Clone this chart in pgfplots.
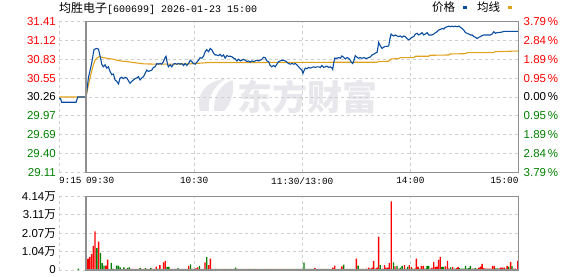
\documentclass[border=0pt]{standalone}
\usepackage{fontspec}
\setmainfont{Liberation Sans}
\newfontfamily\cjk{Noto Sans CJK SC}
\newfontfamily\mono{Liberation Mono}
\usepackage{pgfplots}
\pgfplotsset{compat=1.18}
\definecolor{pblue}{HTML}{0A4DA0}
\definecolor{porange}{HTML}{E0A21C}
\definecolor{vred}{HTML}{FF0000}
\definecolor{vgreen}{HTML}{008000}
\definecolor{gridc}{HTML}{CFCFCF}
\definecolor{framec}{HTML}{8F8F8F}
\definecolor{wm}{HTML}{E8E8EC}
\newcommand{\tl}{\fontsize{11.5}{12}\selectfont}
\begin{document}
\begin{tikzpicture}
\path[use as bounding box] (0pt,0pt) rectangle (578pt,276pt);
% watermark (logo swoosh + text)
\fill[wm] (200pt,165pt) .. controls (195pt,183pt) and (207pt,195pt) .. (226pt,197.5pt) .. controls (214pt,190pt) and (207pt,178pt) .. (209pt,165pt) -- cycle;
\fill[wm] (214pt,165pt) .. controls (213pt,180pt) and (221pt,192pt) .. (232.5pt,196pt) .. controls (235pt,185pt) and (231pt,172pt) .. (224pt,165pt) -- cycle;
\node[anchor=west, text=wm, font=\fontsize{35}{35}\selectfont\cjk\bfseries, inner sep=0pt] at (237pt,179pt) {东方财富};
% title
\node[anchor=base west, inner sep=0pt] at (59pt,263.5pt) {{\fontsize{12}{12}\selectfont\cjk 均胜电子}{\mono\fontsize{10}{10}\selectfont[600699] 2026-01-23 15:00}};
% legend
\node[anchor=base west, inner sep=0pt, font=\fontsize{11.5}{12}\selectfont\cjk] at (432pt,264pt) {价格};
\fill[pblue] (462.7pt,267.3pt) rectangle (466.7pt,270.3pt);
\node[anchor=base west, inner sep=0pt, font=\fontsize{11.5}{12}\selectfont\cjk] at (477pt,264pt) {均线};
\fill[porange] (507.7pt,267.3pt) rectangle (512.3pt,270.3pt);

% ---------------- price axis ----------------
\begin{axis}[
  name=price,
  at={(59pt,103.5pt)}, anchor=south west, scale only axis,
  width=459.5pt, height=151pt,
  xmin=-15, xmax=240, ymin=29.11, ymax=31.41,
  clip=false,
  axis line style={draw=none}, major tick length=0pt,
  grid=major, grid style={gridc, dash pattern=on 3pt off 3pt, line width=0.8pt},
  xtick={-15,0,60,120,180,240},
  xticklabels={\makebox[0pt][l]{9:15},\makebox[0pt][l]{09:30},10:30,11:30/13:00,14:00,\makebox[0pt][r]{15:00}},
  xticklabel style={font=\mono\fontsize{9.4}{10}\selectfont, inner sep=0pt, yshift=-5pt},
  ytick={29.11,29.3975,29.685,29.9725,30.26,30.5475,30.835,31.1225,31.41},
  yticklabels={\textcolor{vgreen}{29.11},\textcolor{vgreen}{29.40},\textcolor{vgreen}{29.69},\textcolor{vgreen}{29.97},30.26,\textcolor{vred}{30.55},\textcolor{vred}{30.83},\textcolor{vred}{31.12},\textcolor{vred}{31.41}},
  yticklabel style={font=\tl, inner sep=0pt, xshift=-3pt},
]
\addplot[porange, line width=1.1pt] coordinates {
(-15,30.26)(0,30.26)(1.3,30.44)(2.2,30.545)(3.1,30.65)(4.1,30.75)(5.0,30.82)(6.3,30.86)(7.4,30.875)(8.7,30.865)(11.5,30.85)(15.2,30.835)(18.9,30.81)(22.6,30.80)(26.3,30.785)(31.9,30.765)(39.3,30.76)(48.5,30.76)(57.8,30.765)(63.3,30.775)(68.0,30.785)(80,30.785)(157.8,30.79)(161.5,30.79)(162.4,30.80)(168.0,30.805)(169.3,30.84)(173.5,30.845)(174.4,30.86)(181.9,30.86)(182.8,30.88)(190.2,30.88)(190.7,30.895)(201.3,30.90)(201.9,30.915)(210.6,30.92)(211.5,30.935)(226.3,30.935)(226.9,30.95)(239.3,30.96)(240,30.97)
};
\addplot[pblue, line width=1.1pt] coordinates {
(-15,30.24)(-14.2,30.24)(-13.5,30.18)(-5.5,30.18)(-4.6,30.26)(0,30.26)
(0.4,30.34)(1.3,30.55)(3.1,30.77)(4.4,30.98)(5.6,31.00)(6.9,30.99)(7.4,30.93)(8.1,30.85)(8.7,30.76)(9.6,30.72)(10.6,30.75)(11.5,30.70)(12.4,30.72)(13.3,30.65)(14.3,30.60)(15.2,30.61)(16.1,30.52)(17.0,30.50)(18.0,30.46)(18.9,30.55)(19.8,30.56)(20.7,30.54)(21.7,30.56)(22.6,30.55)(23.5,30.51)(24.4,30.47)(25.4,30.50)(26.3,30.52)(27.2,30.54)(28.1,30.55)(29.1,30.57)(30.0,30.52)(30.9,30.55)(31.9,30.57)(32.8,30.62)(33.7,30.67)(34.6,30.65)(35.6,30.66)(36.5,30.67)(37.4,30.71)(38.3,30.72)(39.3,30.77)(40.2,30.76)(41.1,30.77)(42.0,30.76)(43.0,30.80)(43.9,30.86)(44.4,30.88)(45.2,30.76)(45.7,30.72)(46.7,30.75)(47.6,30.72)(48.5,30.76)(49.4,30.77)(50.4,30.76)(51.3,30.77)(52.2,30.76)(53.1,30.77)(54.1,30.74)(55.0,30.77)(55.9,30.74)(56.9,30.77)(57.8,30.82)(58.7,30.80)(59.6,30.77)(60.6,30.76)(61.5,30.79)(62.4,30.82)(63.3,30.86)(64.3,30.85)(65.2,30.88)(66.1,30.95)(67.0,30.98)(68.0,30.95)(68.9,31.00)(69.8,30.98)(70.7,30.93)(71.7,30.90)(72.6,30.90)(73.5,30.89)(74.4,30.91)(75.4,30.88)(76.3,30.90)(77.2,30.85)(78.1,30.89)(79.1,30.88)(80.0,30.88)
(80.9,30.875)(81.9,30.85)(82.8,30.84)(83.7,30.81)(84.6,30.835)(85.6,30.81)(86.5,30.82)(87.4,30.835)(88.3,30.82)(89.3,30.80)(90.2,30.81)(91.1,30.79)(92.0,30.81)(93.0,30.80)(93.9,30.81)(94.8,30.82)(95.7,30.81)(96.7,30.82)(97.6,30.835)(98.5,30.865)(99.4,30.86)(100.4,30.81)(101.3,30.80)(102.2,30.74)(103.1,30.72)(104.1,30.74)(105.0,30.72)(105.9,30.76)(106.9,30.80)(107.8,30.81)(108.7,30.82)(109.6,30.82)(110.6,30.81)(111.5,30.79)(112.4,30.77)(113.3,30.76)(114.3,30.77)(115.2,30.76)(116.1,30.77)(117.0,30.75)(118.0,30.72)(118.9,30.69)(119.8,30.67)(120.4,30.62)(121.1,30.67)(121.7,30.70)(122.6,30.69)(123.5,30.71)(124.4,30.70)(125.4,30.71)(126.3,30.72)(127.2,30.71)(128.1,30.72)(129.1,30.72)(130.0,30.71)(130.9,30.74)(131.9,30.71)(132.8,30.72)(133.7,30.73)(134.6,30.71)(135.6,30.72)(136.5,30.70)(136.9,30.68)(137.4,30.77)(138.0,30.85)(139.3,30.85)(140.2,30.86)(141.1,30.85)(142.0,30.885)(143.0,30.865)(143.9,30.84)(144.8,30.86)(145.7,30.85)(146.7,30.82)(147.2,30.79)(148.0,30.77)(148.5,30.80)(149.4,30.89)(150.4,30.865)(151.3,30.85)(152.2,30.86)(153.1,30.85)(154.1,30.86)(155.0,30.85)(155.9,30.85)(156.9,30.86)(157.8,30.87)
(158.7,30.90)(159.6,30.91)(160.6,30.93)(161.5,30.94)(161.9,31.00)(162.4,31.09)(163.3,31.04)(164.3,31.00)(165.2,31.02)(166.1,31.03)(167.0,31.03)(168.0,31.04)(168.5,31.13)(169.3,31.22)(169.8,31.205)(170.7,31.19)(171.7,31.205)(172.6,31.19)(173.5,31.18)(174.4,31.19)(175.4,31.17)(176.3,31.19)(177.2,31.18)(178.1,31.15)(179.1,31.13)(180.0,31.15)(180.9,31.17)(181.9,31.18)(182.8,31.22)(183.7,31.23)(184.6,31.205)(185.6,31.22)(186.5,31.24)(187.4,31.205)(188.3,31.22)(189.3,31.24)(190.2,31.205)(191.1,31.205)(192.0,31.205)(193.0,31.22)(193.9,31.24)(194.8,31.255)(195.7,31.28)(196.7,31.29)(197.6,31.305)(198.5,31.295)(199.4,31.32)(200.4,31.33)(201.3,31.34)(202.2,31.33)(203.1,31.34)(204.1,31.33)(205.0,31.34)(205.9,31.33)(206.9,31.34)(207.8,31.32)(208.7,31.305)(209.6,31.28)(210.6,31.24)(211.5,31.23)(212.4,31.22)(213.3,31.205)(214.3,31.205)(215.2,31.18)(216.1,31.17)(217.0,31.15)(218.0,31.17)(218.9,31.18)(219.8,31.195)(220.7,31.205)(222.6,31.205)(224.4,31.205)(225.4,31.22)(226.3,31.255)(227.2,31.23)(228.1,31.24)(230.0,31.245)(230.9,31.25)(231.9,31.26)(240,31.26)
};
\draw[framec, line width=1.2pt] (axis cs:0,29.11) rectangle (axis cs:240,31.41);
\end{axis}
% right percentage labels
\begin{axis}[
  at={(59pt,103.5pt)}, anchor=south west, scale only axis,
  width=459.5pt, height=151pt,
  xmin=-15, xmax=240, ymin=29.11, ymax=31.41,
  axis line style={draw=none}, major tick length=0pt,
  xtick=\empty, yticklabel pos=right,
  ytick={29.11,29.3975,29.685,29.9725,30.26,30.5475,30.835,31.1225,31.41},
  yticklabels={\textcolor{vgreen}{3.79\,\%},\textcolor{vgreen}{2.84\,\%},\textcolor{vgreen}{1.89\,\%},\textcolor{vgreen}{0.95\,\%},0.00\,\%,\textcolor{vred}{0.95\,\%},\textcolor{vred}{1.89\,\%},\textcolor{vred}{2.84\,\%},\textcolor{vred}{3.79\,\%}},
  yticklabel style={font=\tl, inner sep=0pt, anchor=west, xshift=5pt},
]
\end{axis}

% ---------------- volume axis ----------------
\begin{axis}[
  at={(59pt,6pt)}, anchor=south west, scale only axis,
  width=459.5pt, height=73.7pt,
  xmin=-15, xmax=240, ymin=0, ymax=4.14,
  clip=false,
  axis line style={draw=none}, major tick length=0pt,
  grid=major, grid style={gridc, dash pattern=on 3pt off 3pt, line width=0.8pt},
  xtick={-15,0,60,120,180,240}, xticklabels={},
  ytick={0,1.035,2.07,3.105,4.14},
  yticklabels={0,1.04{\cjk 万},2.07{\cjk 万},3.11{\cjk 万},4.14{\cjk 万}},
  yticklabel style={font=\tl, inner sep=0pt, xshift=-3pt},
]
\addplot[ybar, bar width=0.75, fill=vred, draw=none] coordinates {
(1,0.62)(2,0.74)(3,0.89)(4,1.36)(5,2.17)(7,1.60)(11,0.25)(12,0.58)(16,0.05)(20,0.06)(22,0.06)(25,0.06)(26,0.06)(27,0.06)(28,0.06)(29,0.06)(31,0.06)(32,0.06)(34,0.06)(35,0.06)(37,0.06)(38,0.06)(39,0.19)(41,0.28)(43,0.43)(44,0.51)(47,0.06)(49,0.06)(50,0.06)(53,0.06)(55,0.06)(57,0.23)(60,0.06)(61,0.11)(62,0.15)(64,0.06)(66,0.43)(68,0.28)(69,0.64)(72,0.06)(73,0.06)(76,0.06)(77,0.06)(80,0.06)(81,0.06)(84,0.06)(85,0.06)(88,0.06)(89,0.06)(92,0.06)(95,0.06)(96,0.06)(99,0.06)(100,0.06)(103,0.06)(104,0.06)(107,0.06)(108,0.06)(111,0.06)(112,0.06)(115,0.06)(116,0.06)(119,0.06)(125,0.06)(127,0.11)(129,0.06)(131,0.06)(133,0.06)(135,0.06)(137,0.13)(138,0.25)(140,0.06)(142,0.21)(144,0.06)(146,0.06)(148,0.06)(150,0.64)(152,0.06)(153,0.06)
(155.6,0.075)(156.9,0.13)(157.8,0.075)(158.7,0.13)(159.6,0.51)(160.6,0.075)(161.5,0.13)(162.4,1.87)(164.4,0.075)(165.6,0.28)(166.5,0.13)(167.4,0.13)(168.3,0.40)(169.4,3.86)(171.5,0.21)(173.5,0.075)(176.7,0.28)(179.4,0.28)(180.6,0.17)(182.4,0.075)(183.3,0.64)(184.3,0.17)(186.1,0.23)(187.2,0.23)(191.1,0.075)(192.0,0.13)(193.0,0.45)(193.9,0.17)(194.8,0.19)(195.6,0.57)(196.6,0.74)(199.4,0.21)(200.6,0.51)(201.5,0.075)(203.5,0.17)(205.6,0.11)(206.5,0.17)(214.3,0.075)(217.0,0.075)(218.0,0.13)(218.9,0.19)(219.8,0.34)(220.7,0.11)(221.7,0.075)(222.6,0.075)(223.5,0.075)(224.4,0.075)(225.6,0.23)(226.5,0.23)(229.1,0.075)(230.0,0.13)(230.9,0.13)(232.0,0.13)(233.7,0.23)(235.6,0.45)(237.2,0.075)(238.2,0.075)(239.6,0.51)
};
\addplot[ybar, bar width=0.75, fill=vgreen, draw=none] coordinates {
(-4.3,0.08)(6,1.23)(8,0.96)(9,0.38)(10,0.25)(13,0.05)(14,0.40)(15,0.08)(17,0.25)(18,0.25)(19,0.15)(21,0.15)(23,0.12)(24,0.15)(30,0.12)(33,0.12)(36,0.12)(40,0.06)(42,0.06)(45,0.17)(46,0.17)(48,0.06)(51,0.11)(52,0.06)(54,0.06)(56,0.06)(58,0.32)(59,0.06)(63,0.23)(65,0.06)(67,0.74)(70,0.06)(71,0.06)(74,0.06)(75,0.06)(78,0.06)(79,0.06)(82,0.06)(83,0.13)(86,0.06)(87,0.06)(90,0.06)(91,0.06)(93,0.06)(94,0.06)(97,0.06)(98,0.06)(101,0.06)(102,0.06)(105,0.06)(106,0.06)(109,0.06)(110,0.06)(113,0.06)(114,0.06)(117,0.06)(118,0.06)(120,0.06)(121,0.42)(122,0.06)(123,0.06)(124,0.06)(126,0.06)(128,0.06)(130,0.06)(132,0.06)(134,0.06)(136,0.06)(139,0.06)(141,0.06)(143,0.30)(145,0.06)(147,0.06)(149,0.06)(151,0.25)(154,0.06)
(163.3,0.28)(170.6,0.43)(172.6,0.23)(174.4,0.13)(175.4,0.23)(177.6,0.075)(178.5,0.17)(181.3,0.075)(185.2,0.075)(188.3,0.075)(189.3,0.23)(190.2,0.23)(197.5,0.17)(198.4,0.17)(202.4,0.15)(204.6,0.075)(207.4,0.11)(208.7,0.075)(209.6,0.075)(210.6,0.23)(211.5,0.075)(212.4,0.11)(213.3,0.23)(215.2,0.075)(216.1,0.11)(227.2,0.09)(228.3,0.09)(233.1,0.075)(234.6,0.19)(236.4,0.23)
};
\draw[framec, line width=1.2pt] (axis cs:0,0) rectangle (axis cs:240,4.14);
\end{axis}
\end{tikzpicture}
\end{document}
